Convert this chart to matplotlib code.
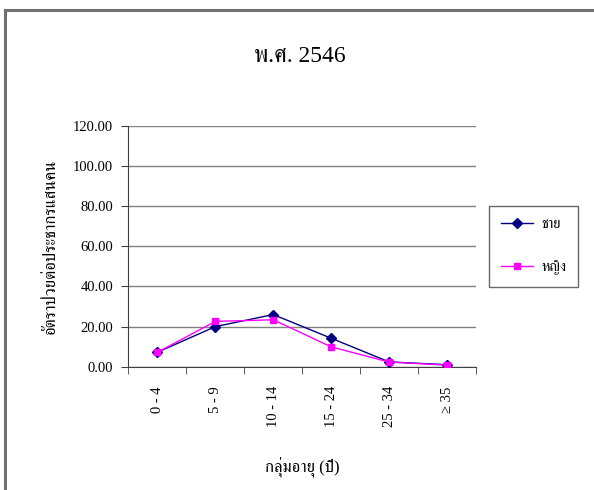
import matplotlib
matplotlib.use("Agg")
import matplotlib.pyplot as plt
from matplotlib.lines import Line2D

plt.rcParams['font.family'] = ['Liberation Serif', 'FreeSerif', 'DejaVu Sans']

# Incidence per 100,000 by age group, 2546 B.E.
age_groups = ['0 - 4', '5 - 9', '10 - 14', '15 - 24', '25 - 34', '≥ 35']
male = [7.2, 20.0, 26.0, 14.2, 2.4, 1.0]
female = [7.2, 22.6, 23.4, 9.9, 2.3, 0.8]
yticks = [0, 20, 40, 60, 80, 100, 120]

fig = plt.figure(figsize=(5.94, 4.9), dpi=100)

# chart frame (top and left edges)
fig.add_artist(Line2D([0.008, 1.0], [0.979, 0.979], color='#707070', lw=2.2))
fig.add_artist(Line2D([0.0085, 0.0085], [0.0, 0.979], color='#707070', lw=2.2))

ax = fig.add_axes([0.2163, 0.2516, 0.585, 0.4912])
x = list(range(len(age_groups)))

ax.plot(x, male, color='#000080', lw=1.0, marker='D', ms=5, label='ชาย', zorder=3)
ax.plot(x, female, color='#FF00FF', lw=1.0, marker='s', ms=5, label='หญิง', zorder=3)

ax.set_xlim(-0.5, len(age_groups) - 0.5)
ax.set_ylim(0, 120)
ax.set_yticks(yticks)
ax.set_yticklabels(['%.2f' % v for v in yticks], fontsize=10.5)
ax.yaxis.grid(True, color='#808080', lw=1.0)
ax.set_axisbelow(True)

# category labels centred, tick marks between categories
ax.set_xticks(x)
ax.set_xticklabels(age_groups, rotation=90, fontsize=10.5)
ax.tick_params(axis='x', length=0, pad=14)
ax.set_xticks([i - 0.5 for i in range(len(age_groups) + 1)], minor=True)
ax.tick_params(axis='x', which='minor', length=5, direction='out', color='#404040')
ax.tick_params(axis='y', length=5, direction='out', color='#404040', pad=6)

for side in ['top', 'right']:
    ax.spines[side].set_visible(False)
for side in ['left', 'bottom']:
    ax.spines[side].set_color('#404040')

ax.set_ylabel('อัตราป่วยต่อประชากรแสนคน', fontsize=12, labelpad=10)
ax.set_xlabel('กลุ่มอายุ (ปี)', fontsize=12, labelpad=22)
fig.text(0.505, 0.885, 'พ.ศ. 2546', ha='center', va='center', fontsize=17)

leg = ax.legend(loc='center left', bbox_to_anchor=(1.03, 0.50), fontsize=10.5,
                frameon=True, fancybox=False, edgecolor='#404040',
                handlelength=2.2, handletextpad=0.6, borderpad=0.8,
                borderaxespad=0.2, labelspacing=2.0)
leg.get_frame().set_linewidth(1.0)

fig.savefig('out.png', dpi=100)
